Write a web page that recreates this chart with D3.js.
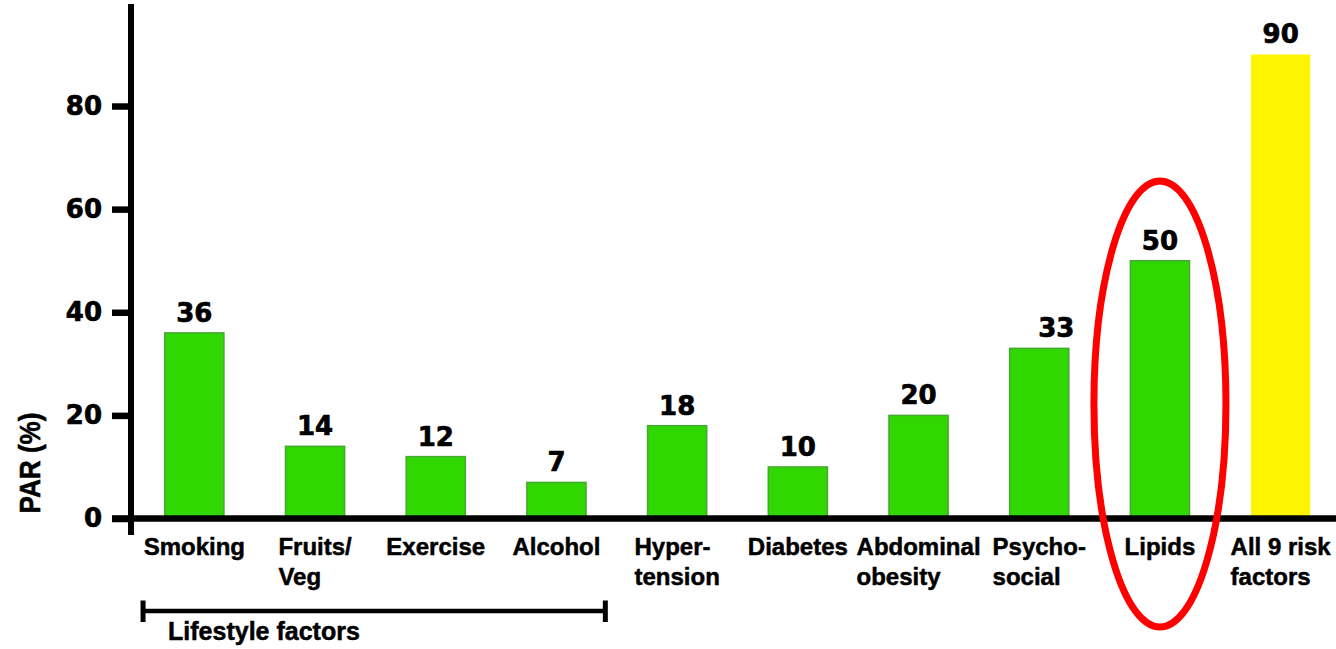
<!DOCTYPE html>
<html>
<head>
<meta charset="utf-8">
<script src="https://cdn.jsdelivr.net/npm/d3@7"></script>
<style>
  html, body { margin: 0; padding: 0; background: #fff; }
  svg { display: block; }
</style>
</head>
<body>
<svg id="chart" width="1336" height="649"></svg>
<script>
// Population attributable risk (%) by risk factor
const categories = ["Smoking", "Fruits/\nVeg", "Exercise", "Alcohol", "Hyper-\ntension",
                    "Diabetes", "Abdominal\nobesity", "Psycho-\nsocial", "Lipids", "All 9 risk\nfactors"];
const parValues = [36, 14, 12, 7, 18, 10, 20, 33, 50, 90];
const yTicks = [0, 20, 40, 60, 80];
const lifestyleGroup = ["Smoking", "Alcohol"];   // first and last member of the bracket
const lifestyleLabel = "Lifestyle factors";
const highlighted = "Lipids";
const totalCategory = "All 9 risk\nfactors";

const W = 1336, H = 649;
const svg = d3.select("#chart");

const GREEN = "#30d700", GREEN_EDGE = "#45a832", YELLOW = "#fff500", RED = "#ff0000";
const labelFont = "'Liberation Sans', Arial, sans-serif";
const numFont = "'DejaVu Sans', Verdana, sans-serif";

const x = d3.scaleBand()
  .domain(categories)
  .range([134, 1341])
  .paddingInner(0.51)
  .paddingOuter(0.255);

const y = d3.scaleLinear().domain([0, 100]).range([518.5, 2.9]);

const axisX = 131;           // vertical axis position
const data = categories.map((c, i) => ({ cat: c, v: parValues[i] }));

// heavy black text helper
function heavy(sel, family, size, weightStroke) {
  return sel.attr("font-family", family)
    .attr("font-weight", "bold")
    .attr("font-size", size)
    .attr("fill", "#000")
    .attr("stroke", "#000")
    .attr("stroke-width", weightStroke)
    .attr("stroke-linejoin", "round");
}

// bars
svg.append("g").selectAll("rect")
  .data(data)
  .join("rect")
  .attr("x", d => x(d.cat))
  .attr("y", d => y(d.v))
  .attr("width", x.bandwidth())
  .attr("height", d => y(0) - y(d.v))
  .attr("fill", d => d.cat === totalCategory ? YELLOW : GREEN)
  .attr("stroke", d => d.cat === totalCategory ? "none" : GREEN_EDGE)
  .attr("stroke-width", 1.5);

// value labels
const nudge = { "Psycho-\nsocial": 17 };
heavy(svg.append("g").selectAll("text")
  .data(data)
  .join("text")
  .attr("x", d => x(d.cat) + x.bandwidth() / 2 + (nudge[d.cat] || 0))
  .attr("y", d => y(d.v) - 11)
  .attr("text-anchor", "middle"), numFont, 26, 0.7)
  .text(d => d.v);

// y axis ticks and labels
const yAxis = d3.axisLeft(y)
  .tickValues(yTicks)
  .tickSize(19)
  .tickSizeOuter(0)
  .tickPadding(10);
const gy = svg.append("g")
  .attr("transform", `translate(${axisX},0)`)
  .call(yAxis);
gy.select(".domain").remove();
gy.selectAll(".tick line").attr("stroke", "#000").attr("stroke-width", 6.5);
heavy(gy.selectAll(".tick text"), numFont, 26, 0.7);

// axis lines
svg.append("line")
  .attr("x1", axisX).attr("x2", axisX)
  .attr("y1", y(100) + 1).attr("y2", y(0) + 16.5)
  .attr("stroke", "#000").attr("stroke-width", 6);
svg.append("line")
  .attr("x1", axisX - 19).attr("x2", W)
  .attr("y1", y(0)).attr("y2", y(0))
  .attr("stroke", "#000").attr("stroke-width", 6.5);

// y axis title
heavy(svg.append("text")
  .attr("transform", `translate(40,${463}) rotate(-90)`)
  .attr("text-anchor", "middle")
  .attr("textLength", 101)
  .attr("lengthAdjust", "spacingAndGlyphs"), labelFont, 29, 0.6)
  .text("PAR (%)");

// category labels: multi-line blocks centred under bars, lines left-aligned
const catG = svg.append("g");
data.forEach(d => {
  const lines = d.cat.split("\n");
  const t = heavy(catG.append("text"), labelFont, 24, 0.5);
  lines.forEach((ln, i) => {
    t.append("tspan").attr("y", 555 + i * 30).text(ln);
  });
  let w = 0;
  t.selectAll("tspan").each(function () { w = Math.max(w, this.getComputedTextLength()); });
  const left = x(d.cat) + x.bandwidth() / 2 - w / 2;
  t.selectAll("tspan").attr("x", left);
});

// lifestyle bracket
const bx1 = x(lifestyleGroup[0]) - x.step() * 0.18;
const bx2 = x(lifestyleGroup[1]) + x.bandwidth() + x.step() * 0.16;
const by = 611;
const br = svg.append("g").attr("stroke", "#000");
br.append("line").attr("x1", bx1).attr("x2", bx2).attr("y1", by).attr("y2", by).attr("stroke-width", 4.5);
br.append("line").attr("x1", bx1).attr("x2", bx1).attr("y1", by - 10.5).attr("y2", by + 11).attr("stroke-width", 5);
br.append("line").attr("x1", bx2).attr("x2", bx2).attr("y1", by - 10.5).attr("y2", by + 11).attr("stroke-width", 5);
heavy(svg.append("text")
  .attr("x", bx1 + 25)
  .attr("y", 640), labelFont, 25, 0.5)
  .text(lifestyleLabel);

// highlight ring around the lipids bar
svg.append("ellipse")
  .attr("cx", x(highlighted) + x.bandwidth() / 2)
  .attr("cy", 404)
  .attr("rx", 66)
  .attr("ry", 223)
  .attr("fill", "none")
  .attr("stroke", RED)
  .attr("stroke-width", 7);
</script>
</body>
</html>
